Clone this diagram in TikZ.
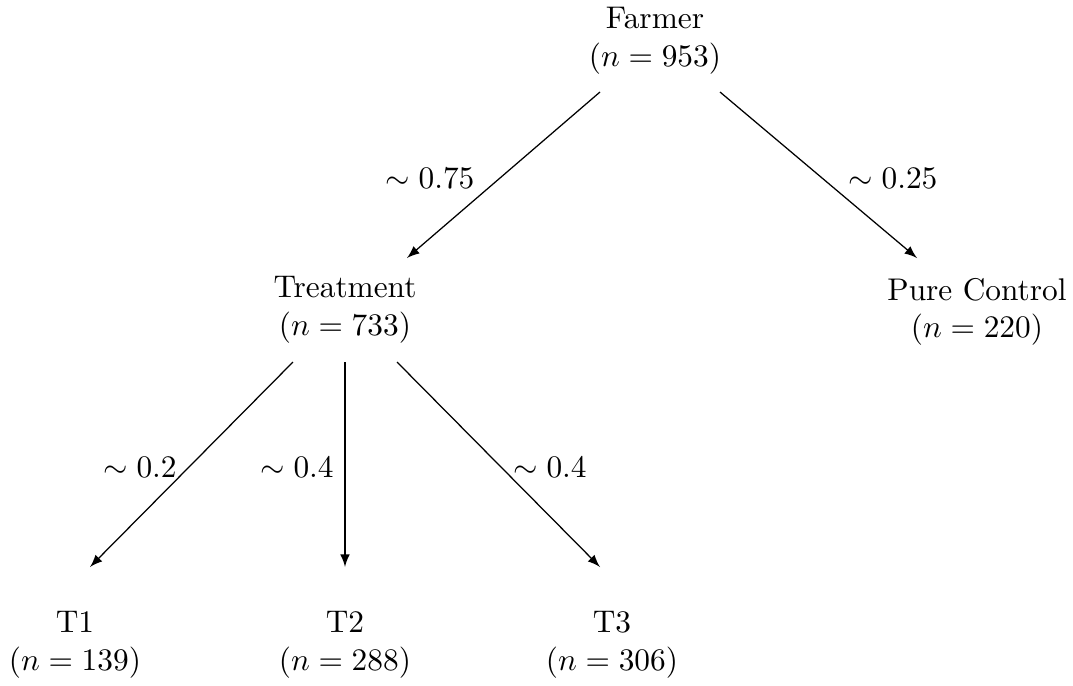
\documentclass[tikz,border=0pt]{standalone}
\usetikzlibrary{arrows}
\begin{document}
\begin{tikzpicture}[x=0.319pt,y=-0.319pt,
  box/.style={align=center,inner sep=0pt},
  arr/.style={-latex,line width=0.4pt},
  lab/.style={inner sep=0pt}]
\useasboundingbox (0,0) rectangle (1073,685);
\node[box] (farmer) at (655,41) {Farmer\\($n = 953$)};
\node[box] (treat) at (345,310) {Treatment\\($n = 733$)};
\node[box] (pure) at (977,312) {Pure Control\\($n = 220$)};
\node[box] (t1) at (75,645) {T1\\($n = 139$)};
\node[box] (t2) at (345,645) {T2\\($n = 288$)};
\node[box] (t3) at (612,645) {T3\\($n = 306$)};
\draw[arr] ([shift={(-55,51)}]farmer.center) -- ([shift={(62,-52)}]treat.center);
\draw[arr] ([shift={(65,51)}]farmer.center) -- ([shift={(-60,-54)}]pure.center);
\draw[arr] ([shift={(-52,52)}]treat.center) -- ([shift={(15,-78)}]t1.center);
\draw[arr] ([shift={(0,52)}]treat.center) -- ([shift={(0,-78)}]t2.center);
\draw[arr] ([shift={(52,52)}]treat.center) -- ([shift={(-12,-78)}]t3.center);
\node[lab] (l1) at (430,178) {$\sim 0.75$};
\node[lab] (l2) at (893,178) {$\sim 0.25$};
\node[lab] (l3) at (140,467) {$\sim 0.2$};
\node[lab] (l4) at (297,467) {$\sim 0.4$};
\node[lab] (l5) at (550,467) {$\sim 0.4$};
\end{tikzpicture}
\end{document}
